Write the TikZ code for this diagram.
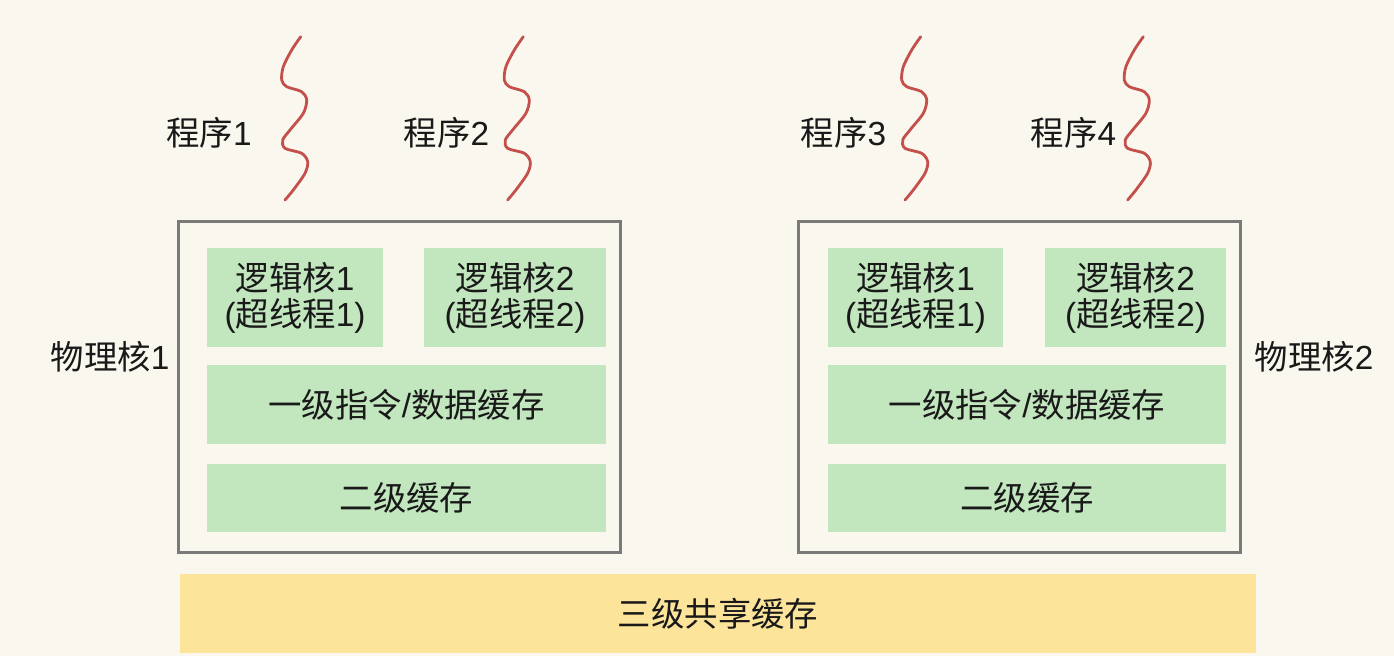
\documentclass[tikz,border=0pt]{standalone}
\usepackage{fontspec}
\newfontfamily\cjk{Noto Sans CJK SC}
\newfontfamily\latin{Liberation Sans}
\usetikzlibrary{calc}
\definecolor{bgcream}{HTML}{FAF7EE}
\definecolor{cachegreen}{HTML}{C2E6BE}
\definecolor{sharedyellow}{HTML}{FDE49B}
\definecolor{threadred}{HTML}{C4504C}
\definecolor{coregray}{HTML}{7A7A7A}
\def\thread(#1,#2){\draw[thread,shift={(#1,#2)}] plot[smooth,tension=0.5] coordinates {(0,0) (-9,13.3) (-17.4,30) (-19,43.3) (-14,50) (1,55) (6,63.3) (2.6,76.6) (-10.7,93.3) (-18,103.3) (-15.7,111.6) (1,116.6) (7,125) (4.3,136.6) (-7.4,153.3) (-15.7,163.3)};}
\def\lat#1{{\latin #1}}

\begin{document}
\begin{tikzpicture}[x=0.02cm, y=-0.02cm,
	txt/.style={font=\cjk\fontsize{19}{20.5}\selectfont, align=center, text=black!90},
	cachebox/.style={txt, fill=cachegreen, inner sep=0pt},
	coreframe/.style={draw=coregray, line width=1.7pt, inner sep=0pt},
	thread/.style={draw=threadred, line width=1.6pt, line cap=round}]
		%%%%% START %%%%%
		\fill[bgcream] (0, 0) rectangle (1394, 656);
		\useasboundingbox (0, 0) rectangle (1394, 656);
		
		% programs and their threads
		\node[txt] (prog1) at (209, 133) {程序\lat{1}};
		\node[txt] (prog2) at (446.5, 133) {程序\lat{2}};
		\node[txt] (prog3) at (843.5, 133) {程序\lat{3}};
		\node[txt] (prog4) at (1073.5, 133) {程序\lat{4}};
		\thread(300.7,36.7)
		\thread(523.3,36.7)
		\thread(920.7,36.7)
		\thread(1143.3,36.7)
		
		% physical core 1
		\node[coreframe, minimum width=8.86cm, minimum height=6.62cm] (core1) at (399.5, 387) {};
		\node[txt] (core1label) at (110, 357) {物理核\lat{1}};
		\node[cachebox, minimum width=3.51cm, minimum height=1.97cm] (logic11) at (295, 297.5) {逻辑核\lat{1}\\\lat{(}超线程\lat{1)}};
		\node[cachebox, minimum width=3.64cm, minimum height=1.97cm] (logic12) at (515, 297.5) {逻辑核\lat{2}\\\lat{(}超线程\lat{2)}};
		\node[cachebox, minimum width=7.98cm, minimum height=1.58cm] (levelone1) at (406.5, 404.5) {一级指令\lat{/}数据缓存};
		\node[cachebox, minimum width=7.98cm, minimum height=1.36cm] (leveltwo1) at (406.5, 498) {二级缓存};
		
		% physical core 2
		\node[coreframe, minimum width=8.86cm, minimum height=6.62cm] (core2) at (1019.5, 387) {};
		\node[txt] (core2label) at (1314, 357) {物理核\lat{2}};
		\node[cachebox, minimum width=3.51cm, minimum height=1.97cm] (logic21) at (915.5, 297.5) {逻辑核\lat{1}\\\lat{(}超线程\lat{1)}};
		\node[cachebox, minimum width=3.64cm, minimum height=1.97cm] (logic22) at (1135.5, 297.5) {逻辑核\lat{2}\\\lat{(}超线程\lat{2)}};
		\node[cachebox, minimum width=7.98cm, minimum height=1.58cm] (levelone2) at (1027, 404.5) {一级指令\lat{/}数据缓存};
		\node[cachebox, minimum width=7.98cm, minimum height=1.36cm] (leveltwo2) at (1027, 498) {二级缓存};
		
		% shared level three cache
		\node[txt, fill=sharedyellow, inner sep=0pt, minimum width=21.52cm, minimum height=1.58cm] (levelthree) at (718, 613.5) {三级共享缓存};
		%%%%% END %%%%%
\end{tikzpicture}
\end{document}
